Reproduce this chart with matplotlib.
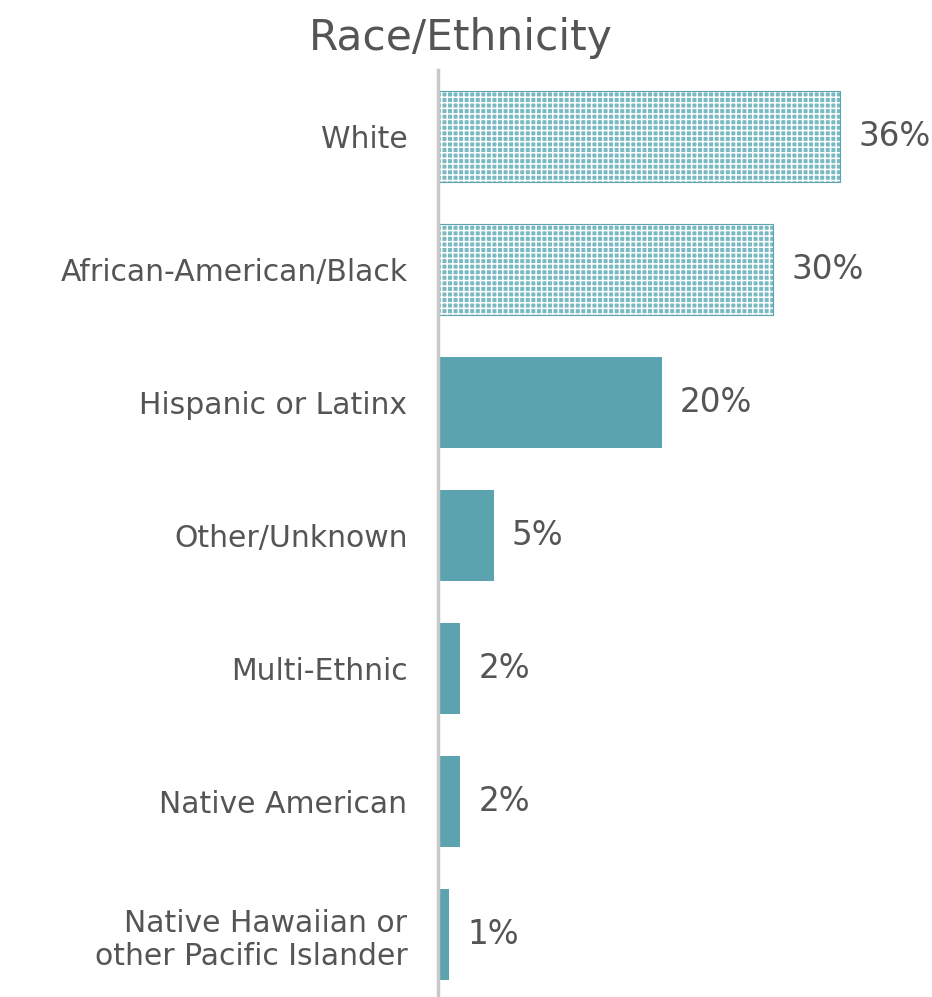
import matplotlib.pyplot as plt

categories = ['White', 'African-American/Black', 'Hispanic or Latinx', 'Other/Unknown',
              'Multi-Ethnic', 'Native American', 'Native Hawaiian or\nother Pacific Islander']
values = [36, 30, 20, 5, 2, 2, 1]
patterned = [True, True, False, False, False, False, False]

teal = '#5ba3ae'
txt = '#555555'
plt.rcParams['font.family'] = ['DejaVu Sans']
plt.rcParams['hatch.linewidth'] = 1.1

fig = plt.figure(figsize=(9.32, 9.97), dpi=100)
ax = fig.add_axes([438 / 932, -4 / 997, 494 / 932, 931 / 997])

y = list(range(len(categories)))
for i, (v, p) in enumerate(zip(values, patterned)):
    if p:
        # dotted fill like the original
        ax.barh(i, v, height=0.68, color='#78b9c2', edgecolor='white', hatch='+++', linewidth=0)
        ax.barh(i, v, height=0.68, fill=False, edgecolor=teal, linewidth=0.8)
    else:
        ax.barh(i, v, height=0.68, color=teal, linewidth=0)
    ax.text(v + 1.6, i, f'{v}%', va='center', ha='left', fontsize=23.5, color=txt)

ax.set_ylim(len(categories) - 0.5, -0.5)
ax.set_xlim(0, 44.2)
ax.set_yticks(y)
ax.set_yticklabels(categories, fontsize=21.5, color=txt, linespacing=1.2)
ax.tick_params(axis='y', length=0, pad=22)
ax.set_xticks([])
for s in ['top', 'right', 'bottom']:
    ax.spines[s].set_visible(False)
ax.spines['left'].set_color('#c8c8c8')
ax.spines['left'].set_linewidth(2.5)

fig.text(461 / 932, 1 - 38 / 997, 'Race/Ethnicity', ha='center', va='center', fontsize=30.5, color=txt)

fig.savefig('out.png', dpi=100)
